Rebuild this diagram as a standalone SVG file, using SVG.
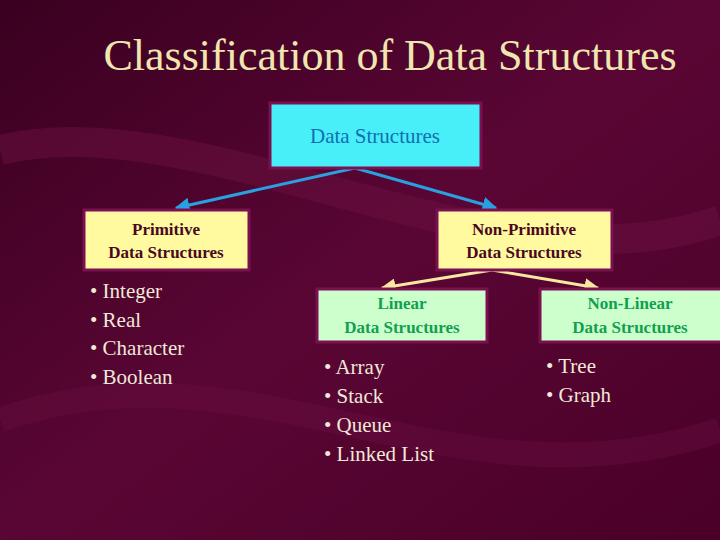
<svg xmlns="http://www.w3.org/2000/svg" width="720" height="540" viewBox="0 0 720 540">
<defs>
<linearGradient id="bg" x1="0" y1="0" x2="1" y2="1"><stop offset="0" stop-color="#3a0020"/><stop offset="0.5" stop-color="#5a0634"/><stop offset="1" stop-color="#4a0028"/></linearGradient>
<marker id="ab" viewBox="0 0 10 10" refX="9" refY="5" markerWidth="5" markerHeight="5" orient="auto-start-reverse"><path d="M0,0 L10,5 L0,10 z" fill="#2aa0e0"/></marker>
<marker id="ay" viewBox="0 0 10 10" refX="9" refY="5" markerWidth="5" markerHeight="5" orient="auto-start-reverse"><path d="M0,0 L10,5 L0,10 z" fill="#f8e8a0"/></marker>
<style>
.b{stroke:#7a1050;stroke-width:3}
.h{font-weight:bold;font-size:17px;text-anchor:middle}
.li{font-size:21px;fill:#f0e8d8}
</style>
</defs>
<rect width="720" height="540" fill="url(#bg)"/>
<path d="M0,150 C200,100 500,300 720,220" stroke="#6a1040" stroke-width="30" fill="none" opacity="0.5"/>
<path d="M0,420 C250,330 450,520 720,430" stroke="#6a1040" stroke-width="25" fill="none" opacity="0.4"/>
<g font-family="'Liberation Serif','Times New Roman',serif">
<text x="390" y="70" font-size="44" fill="#f0e6b0" text-anchor="middle">Classification of Data Structures</text>
<g id="connectors" stroke-width="3" fill="none">
<line x1="355" y1="168" x2="176" y2="208" stroke="#2aa0e0" marker-end="url(#ab)"/>
<line x1="355" y1="168" x2="496" y2="208" stroke="#2aa0e0" marker-end="url(#ab)"/>
<line x1="492" y1="270" x2="382" y2="288" stroke="#f8e8a0" marker-end="url(#ay)"/>
<line x1="492" y1="270" x2="598" y2="288" stroke="#f8e8a0" marker-end="url(#ay)"/>
</g>
<g id="root"><rect class="b" x="270" y="103" width="211" height="65" fill="#48eef8"/><text x="375" y="143" font-size="21" fill="#1070b0" text-anchor="middle">Data Structures</text></g>
<g id="primitive"><rect class="b" x="84" y="210" width="165" height="60" fill="#fffaa0"/><text class="h" x="166" y="235" fill="#4a0820">Primitive</text><text class="h" x="166" y="258" fill="#4a0820">Data Structures</text></g>
<g id="nonprimitive"><rect class="b" x="437" y="210" width="175" height="60" fill="#fffaa0"/><text class="h" x="524" y="235" fill="#4a0820">Non-Primitive</text><text class="h" x="524" y="258" fill="#4a0820">Data Structures</text></g>
<g id="linear"><rect class="b" x="317" y="289" width="170" height="53" fill="#ccffcc"/><text class="h" x="402" y="309" fill="#10a050">Linear</text><text class="h" x="402" y="333" fill="#10a050">Data Structures</text></g>
<g id="nonlinear"><rect class="b" x="540" y="289" width="182" height="53" fill="#ccffcc"/><text class="h" x="630" y="309" fill="#10a050">Non-Linear</text><text class="h" x="630" y="333" fill="#10a050">Data Structures</text></g>
<g id="primlist"><text class="li" x="90" y="298">• Integer</text><text class="li" x="90" y="327">• Real</text><text class="li" x="90" y="355">• Character</text><text class="li" x="90" y="384">• Boolean</text></g>
<g id="linlist"><text class="li" x="324" y="374">• Array</text><text class="li" x="324" y="403">• Stack</text><text class="li" x="324" y="432">• Queue</text><text class="li" x="324" y="461">• Linked List</text></g>
<g id="nonlinlist"><text class="li" x="546" y="373">• Tree</text><text class="li" x="546" y="402">• Graph</text></g>
</g>
</svg>
